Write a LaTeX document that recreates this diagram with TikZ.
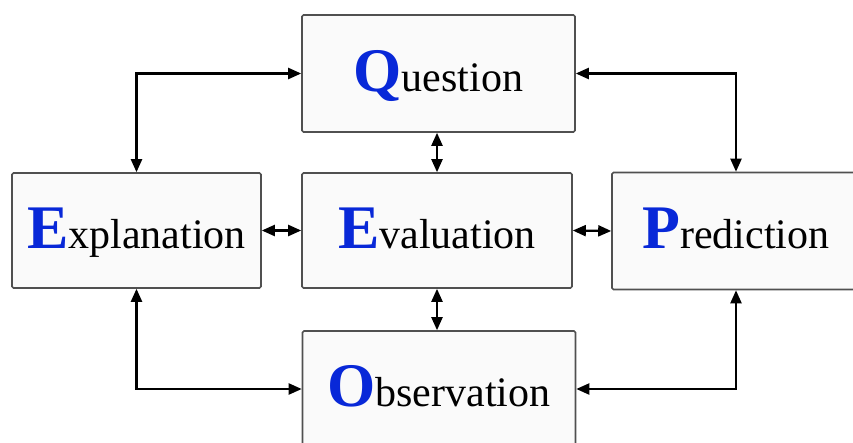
\documentclass[tikz,border=0pt]{standalone}
\usepackage{fontspec}
\setmainfont{Liberation Serif}
\usetikzlibrary{arrows.meta}
\definecolor{initblue}{RGB}{8,40,216}
\definecolor{boxfill}{RGB}{250,250,250}
\definecolor{boxline}{RGB}{80,80,80}
\newcommand{\initial}[1]{{\fontsize{62}{62}\selectfont\bfseries\color{initblue}#1}}
\tikzset{
  stagebox/.style={draw=boxline, fill=boxfill, line width=1.6pt, rounded corners=1.5pt,
    inner sep=0pt, text height=35pt, text depth=0pt,
    font=\fontsize{42}{42}\selectfont},
  link/.style={line width=2.2pt, {Triangle[length=13pt,width=11pt]}-{Triangle[length=13pt,width=11pt]}}
}
\begin{document}
\begin{tikzpicture}[x=1pt,y=-1pt]
  \useasboundingbox (0,0) rectangle (853,442);
  \clip (0,0) rectangle (853,442);

  \node[stagebox, minimum width=273pt, minimum height=117pt] (Q) at (438.5,73.5) {\initial{Q}uestion};
  \node[stagebox, minimum width=249pt, minimum height=115pt] (Ex) at (136.5,230.5) {\initial{E}xplanation};
  \node[stagebox, minimum width=270pt, minimum height=115pt] (Ev) at (437,230.5) {\initial{E}valuation};
  \node[stagebox, minimum width=248pt, minimum height=117pt] (P) at (736,231) {\initial{P}rediction};
  \node[stagebox, minimum width=273pt, minimum height=116pt] (O) at (439,389) {\initial{O}bservation};

  \draw[link] (Q.west) -| (Ex.north);
  \draw[link] (Q.east) -| (P.north);
  \draw[link] (Ex.south) |- (O.west);
  \draw[link] (P.south) |- (O.east);
  \draw[link] (Q.south -| Ev.north) -- (Ev.north);
  \draw[link] (Ev.south) -- (O.north -| Ev.south);
  \draw[link] (Ex.east) -- (Ev.west);
  \draw[link] (Ev.east) -- (P.west);
\end{tikzpicture}
\end{document}
